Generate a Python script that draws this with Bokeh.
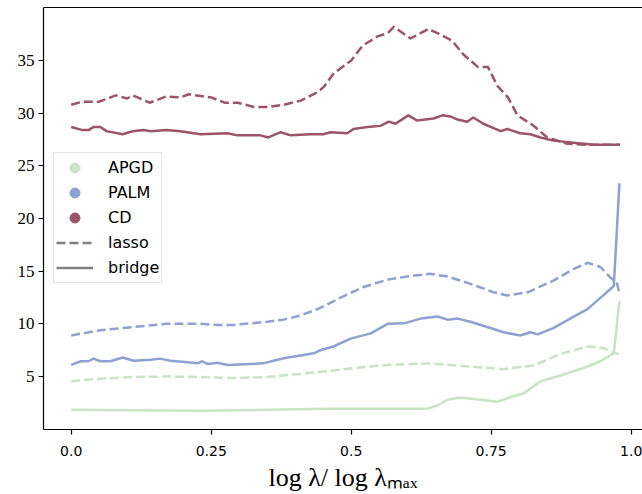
from bokeh.plotting import figure
from bokeh.models import (Legend, LegendItem, LinearAxis, FixedTicker, Range1d)
from bokeh.embed import file_html
from bokeh.resources import INLINE

# ---------------- data ----------------
cd_lasso_x = [0.0, 0.02, 0.05, 0.08, 0.10, 0.11, 0.14, 0.17, 0.195, 0.21, 0.25, 0.274, 0.297,
              0.326, 0.35, 0.38, 0.41, 0.44, 0.451, 0.469, 0.50, 0.52, 0.547, 0.565, 0.576,
              0.606, 0.638, 0.654, 0.68, 0.70, 0.726, 0.744, 0.761, 0.78, 0.797, 0.826, 0.85,
              0.886, 0.92, 0.98]
cd_lasso_y = [30.8, 31.1, 31.1, 31.7, 31.4, 31.7, 31.0, 31.6, 31.5, 31.8, 31.5, 31.0, 31.0,
              30.6, 30.6, 30.8, 31.2, 32.0, 32.5, 33.8, 35.0, 36.4, 37.3, 37.6, 38.2,
              37.1, 38.0, 37.6, 36.9, 35.6, 34.4, 34.4, 32.6, 31.5, 29.8, 28.8, 27.7,
              27.1, 27.0, 27.0]

cd_bridge_x = [0.0, 0.02, 0.031, 0.04, 0.052, 0.063, 0.092, 0.11, 0.129, 0.142, 0.17, 0.195,
               0.231, 0.279, 0.297, 0.338, 0.352, 0.374, 0.392, 0.427, 0.45, 0.463, 0.493,
               0.504, 0.529, 0.552, 0.567, 0.579, 0.602, 0.618, 0.647, 0.663, 0.677, 0.69,
               0.707, 0.718, 0.736, 0.749, 0.767, 0.779, 0.802, 0.82, 0.838, 0.861, 0.897,
               0.933, 0.98]
cd_bridge_y = [28.7, 28.4, 28.4, 28.7, 28.7, 28.3, 28.0, 28.3, 28.4, 28.3, 28.4, 28.3,
               28.0, 28.1, 27.9, 27.9, 27.7, 28.2, 27.9, 28.0, 28.0, 28.2, 28.1,
               28.5, 28.7, 28.8, 29.2, 29.0, 29.8, 29.3, 29.5, 29.8, 29.7, 29.4,
               29.2, 29.6, 29.0, 28.7, 28.3, 28.5, 28.1, 28.0, 27.7, 27.4, 27.2,
               27.0, 27.0]

palm_lasso_x = [0.0, 0.052, 0.111, 0.17, 0.231, 0.261, 0.29, 0.35, 0.379, 0.41, 0.44, 0.463,
                0.481, 0.522, 0.565, 0.60, 0.641, 0.672, 0.713, 0.754, 0.779, 0.815, 0.861,
                0.897, 0.922, 0.945, 0.963, 0.975, 0.979]
palm_lasso_y = [8.9, 9.4, 9.7, 10.0, 10.0, 9.9, 9.9, 10.2, 10.4, 10.8, 11.4, 12.0,
                12.5, 13.5, 14.2, 14.5, 14.75, 14.5, 13.8, 13.0, 12.7, 13.0, 14.1,
                15.2, 15.8, 15.4, 14.4, 13.8, 12.9]

palm_bridge_x = [0.0, 0.017, 0.031, 0.04, 0.052, 0.07, 0.092, 0.111, 0.142, 0.159, 0.177,
                 0.208, 0.226, 0.234, 0.243, 0.261, 0.279, 0.32, 0.343, 0.368, 0.386, 0.41,
                 0.433, 0.445, 0.468, 0.499, 0.535, 0.565, 0.594, 0.624, 0.654, 0.672, 0.69,
                 0.713, 0.743, 0.772, 0.802, 0.82, 0.833, 0.861, 0.891, 0.922, 0.95, 0.967,
                 0.969, 0.979]
palm_bridge_y = [6.1, 6.45, 6.45, 6.7, 6.45, 6.45, 6.8, 6.5, 6.6, 6.7, 6.5,
                 6.35, 6.25, 6.45, 6.2, 6.3, 6.1, 6.2, 6.25, 6.6, 6.8, 7.0,
                 7.2, 7.5, 7.85, 8.6, 9.1, 10.0, 10.05, 10.5, 10.7, 10.4, 10.5,
                 10.2, 9.7, 9.2, 8.9, 9.2, 9.0, 9.6, 10.5, 11.4, 12.7, 13.5,
                 13.65, 23.35]

apgd_lasso_x = [0.0, 0.052, 0.111, 0.17, 0.231, 0.29, 0.35, 0.41, 0.463, 0.504, 0.565, 0.641,
                0.713, 0.772, 0.826, 0.874, 0.922, 0.95, 0.978]
apgd_lasso_y = [4.55, 4.8, 4.95, 5.0, 4.95, 4.85, 4.95, 5.25, 5.55, 5.8, 6.1, 6.25,
                5.95, 5.7, 6.05, 7.15, 7.85, 7.7, 7.1]

apgd_bridge_x = [0.0, 0.111, 0.231, 0.35, 0.463, 0.636, 0.654, 0.672, 0.695, 0.713, 0.731,
                 0.761, 0.785, 0.808, 0.838, 0.874, 0.922, 0.945, 0.969, 0.979]
apgd_bridge_y = [1.85, 1.8, 1.75, 1.85, 1.95, 1.95, 2.25, 2.8, 3.0, 2.9, 2.8,
                 2.6, 3.05, 3.4, 4.55, 5.1, 5.95, 6.45, 7.2, 12.2]

methods = ["APGD", "PALM", "CD"]
method_colors = ["#c8e4c4", "#8ea1d3", "#9c5468"]
penalties = ["lasso", "bridge"]
penalty_dashes = ["9 4", "solid"]

x_ticks = [0.0, 0.25, 0.5, 0.75, 1.0]
x_tick_labels = ["0.0", "0.25", "0.5", "0.75", "1.0"]
y_ticks = [5, 10, 15, 20, 25, 30, 35]

series = {
    ("APGD", "lasso"): (apgd_lasso_x, apgd_lasso_y),
    ("APGD", "bridge"): (apgd_bridge_x, apgd_bridge_y),
    ("PALM", "lasso"): (palm_lasso_x, palm_lasso_y),
    ("PALM", "bridge"): (palm_bridge_x, palm_bridge_y),
    ("CD", "lasso"): (cd_lasso_x, cd_lasso_y),
    ("CD", "bridge"): (cd_bridge_x, cd_bridge_y),
}

# ---------------- figure ----------------
p = figure(width=642, height=494, output_backend="svg", toolbar_location=None,
           x_range=Range1d(-0.0495, 1.0202), y_range=Range1d(-0.03, 40.04),
           min_border_left=43, min_border_right=0, min_border_top=7, min_border_bottom=65)
p.xgrid.visible = False
p.ygrid.visible = False
p.outline_line_color = None
p.background_fill_color = "white"
p.border_fill_color = "white"

for m, col in zip(methods, method_colors):
    for pen, dash in zip(penalties, penalty_dashes):
        xs, ys = series[(m, pen)]
        p.line(xs, ys, line_color=col, line_width=2.5, line_dash=dash,
               line_join="round")

# axes styling
for ax in (p.xaxis[0], p.yaxis[0]):
    ax.axis_line_color = "black"
    ax.axis_line_width = 1.2
    ax.major_tick_line_color = "black"
    ax.major_tick_line_width = 1.2
    ax.major_tick_out = 5
    ax.major_tick_in = 0
    ax.minor_tick_line_color = None

p.xaxis.ticker = FixedTicker(ticks=x_ticks)
p.xaxis.major_label_overrides = {t: s for t, s in zip(x_ticks, x_tick_labels)}
p.xaxis.major_label_text_font = "DejaVu Sans"
p.xaxis.major_label_text_font_size = "14px"
p.xaxis.major_label_text_color = "black"
p.xaxis.major_label_standoff = 11
p.xaxis.axis_label = "log λ/ log λₘₐₓ"
p.xaxis.axis_label_text_font = "Liberation Serif"
p.xaxis.axis_label_text_font_style = "normal"
p.xaxis.axis_label_text_font_size = "26px"
p.xaxis.axis_label_text_color = "black"
p.xaxis.axis_label_standoff = 4

p.yaxis.ticker = FixedTicker(ticks=y_ticks)
p.yaxis.major_label_text_font = "Liberation Serif"
p.yaxis.major_label_text_font_size = "17px"
p.yaxis.major_label_text_color = "black"
p.yaxis.major_label_standoff = 4

top_axis = LinearAxis(ticker=FixedTicker(ticks=[]), major_label_text_font_size="0px",
                      major_tick_out=0, major_tick_in=0, minor_tick_out=0, minor_tick_in=0,
                      axis_line_color="black", axis_line_width=1.2)
p.add_layout(top_axis, "above")

# ---------------- legend ----------------
nan = float("nan")
items = []
for m, col in zip(methods, method_colors):
    r = p.scatter(x=[nan], y=[nan], size=12, marker="circle", fill_color=col, line_color=col)
    items.append(LegendItem(label=m, renderers=[r]))
for pen, dash in zip(penalties, penalty_dashes):
    r = p.line(x=[nan, nan], y=[nan, nan], line_color="#808080", line_width=2.5, line_dash=dash)
    items.append(LegendItem(label=pen, renderers=[r]))

legend = Legend(items=items, location=(10, 146), margin=0, padding=2, spacing=0,
                glyph_width=37, glyph_height=25, label_height=25, label_standoff=15,
                label_text_font="DejaVu Sans", label_text_font_size="16px",
                label_text_color="black",
                border_line_color="#cccccc", border_line_width=1,
                background_fill_color="white", background_fill_alpha=0.8)
p.add_layout(legend)

open("out.html", "w").write(file_html(p, INLINE))
